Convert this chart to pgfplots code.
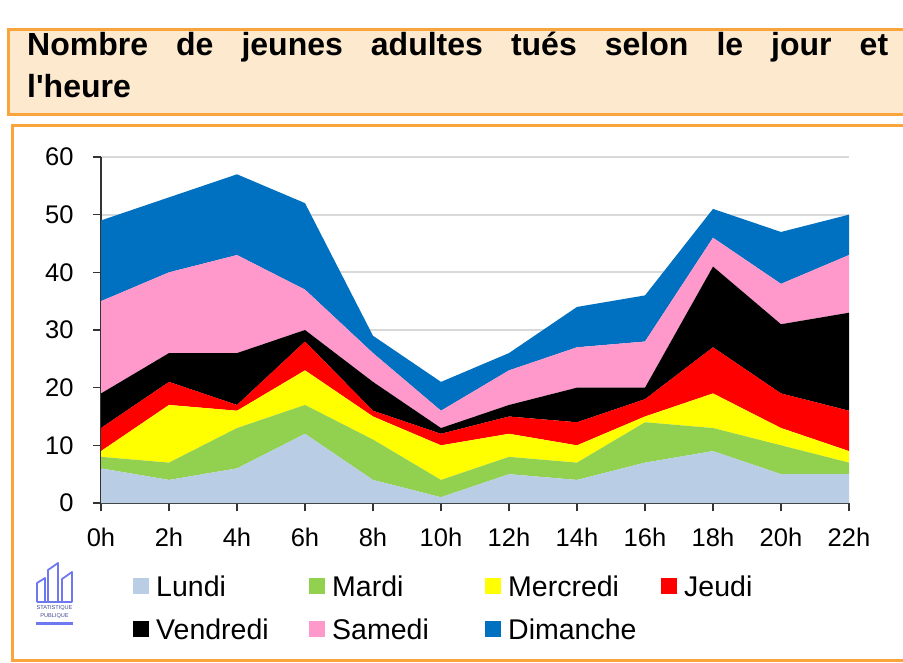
\documentclass[border=0pt]{standalone}
\usepackage{fontspec}
\setmainfont{Liberation Sans}
\usepackage{pgfplots}
\usepackage{pgfplotstable}
\pgfplotsset{compat=1.18}

\definecolor{lundi}{HTML}{B9CDE5}
\definecolor{mardi}{HTML}{92D050}
\definecolor{mercredi}{HTML}{FFFF00}
\definecolor{jeudi}{HTML}{FF0000}
\definecolor{vendredi}{HTML}{000000}
\definecolor{samedi}{HTML}{FF99CC}
\definecolor{dimanche}{HTML}{0070C0}
\definecolor{boxorange}{HTML}{F9A53C}
\definecolor{boxfill}{HTML}{FDE9CD}
\definecolor{gridgray}{HTML}{D9D9D9}
\definecolor{logoblue}{HTML}{6E78F0}

% killed per day and 2-hour slot
\pgfplotstableread{
h  L  M  Me J  V  S  D
0  6  2  1  4  6  16 14
2  4  3  10 4  5  14 13
4  6  7  3  1  9  17 14
6  12 5  6  5  2  7  15
8  4  7  4  1  5  5  3
10 1  3  6  2  1  3  5
12 5  3  4  3  2  6  3
14 4  3  3  4  6  7  7
16 7  7  1  3  2  8  8
18 9  4  6  8  14 5  5
20 5  5  3  6  12 7  9
22 5  2  2  7  17 10 7
}\tues

\begin{document}
\begin{tikzpicture}
\begin{scope}[x=1pt,y=-1pt]
\path[use as bounding box, clip] (0,0) rectangle (903,663);
\draw[boxorange, fill=boxfill, line width=3pt] (8,30) rectangle (915,115);
\node[anchor=north west, inner sep=0pt, text width=861pt, align=justify,
  font=\fontsize{32}{42}\selectfont\bfseries] at (27,32)
  {Nombre de jeunes adultes tués selon le jour et\linebreak l\textquotesingle heure};
\draw[boxorange, line width=3pt] (12,126) rectangle (915,660);
% logo
\draw[logoblue, line width=1.8pt, line join=round]
  (37,602) -- (37,583) -- (45,578) -- (45,602)
  (48,602) -- (48,570) -- (58,563) -- (58,602)
  (62,602) -- (62,579) -- (72,572) -- (72,602)
  (37,602) -- (72,602);
\node[logoblue!60!black, font=\fontsize{5.6}{6}\selectfont, inner sep=0pt] at (54.5,608.5) {STATISTIQUE};
\node[logoblue!60!black, font=\fontsize{5.6}{6}\selectfont, inner sep=0pt] at (54.5,616.5) {PUBLIQUE};
\fill[logoblue] (36,621.5) rectangle (73,624.5);
\end{scope}

\begin{axis}[
  at={(101pt,-503pt)}, anchor=south west,
  scale only axis, width=748pt, height=346pt,
  xmin=0, xmax=22, ymin=0, ymax=60,
  axis x line=bottom, axis y line=left,
  axis line style={-, line width=1.3pt, black!80},
  xtick={0,2,...,22},
  xticklabels={0h,2h,4h,6h,8h,10h,12h,14h,16h,18h,20h,22h},
  ytick={0,10,...,60},
  tick align=outside, major tick length=8pt,
  tick style={line width=1.3pt, black!80},
  ymajorgrids, grid style={gridgray, line width=2pt},
  tick label style={font=\fontsize{25.5}{30}\selectfont},
  xticklabel style={yshift=-13pt},
  yticklabel style={xshift=-16pt},
  /pgf/number format/assume math mode=true,
  stack plots=y,
  legend columns=4,
  legend cell align=left,
  legend image code/.code={\fill[#1] (0pt,-8pt) rectangle (16pt,8pt);},
  legend style={at={(axis description cs:0.0428,-0.203)}, anchor=north west,
    draw=none, fill=none, inner sep=0pt,
    font=\fontsize{28.5}{34}\selectfont,
    nodes={inner sep=0pt, text height=23pt, text depth=3pt},
    row sep=17pt,
    /tikz/every odd column/.append style={column sep=7pt}},
]
\addplot[fill=lundi, draw=none] table[x=h, y=L] {\tues} \closedcycle;
\addlegendentry{\makebox[153pt][l]{Lundi}}
\addplot[fill=mardi, draw=none] table[x=h, y=M] {\tues} \closedcycle;
\addlegendentry{\makebox[153pt][l]{Mardi}}
\addplot[fill=mercredi, draw=none] table[x=h, y=Me] {\tues} \closedcycle;
\addlegendentry{\makebox[153pt][l]{Mercredi}}
\addplot[fill=jeudi, draw=none] table[x=h, y=J] {\tues} \closedcycle;
\addlegendentry{\makebox[153pt][l]{Jeudi}}
\addplot[fill=vendredi, draw=none] table[x=h, y=V] {\tues} \closedcycle;
\addlegendentry{\makebox[153pt][l]{Vendredi}}
\addplot[fill=samedi, draw=none] table[x=h, y=S] {\tues} \closedcycle;
\addlegendentry{\makebox[153pt][l]{Samedi}}
\addplot[fill=dimanche, draw=none] table[x=h, y=D] {\tues} \closedcycle;
\addlegendentry{\makebox[153pt][l]{Dimanche}}
\end{axis}
\end{tikzpicture}
\end{document}
